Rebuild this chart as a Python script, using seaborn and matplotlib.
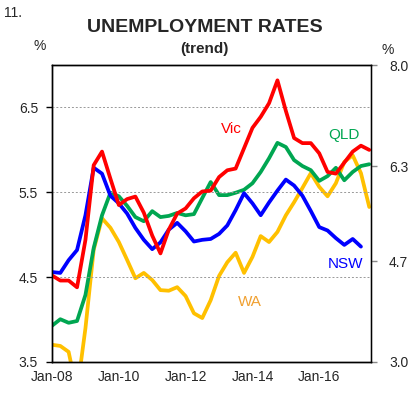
import matplotlib
matplotlib.use("Agg")
import matplotlib.pyplot as plt
import matplotlib.dates as mdates
import numpy as np
import pandas as pd
import seaborn as sns

# quarterly readings, Jan-2008 .. Jul-2017
dates = pd.date_range("2008-01-01", periods=39, freq="3MS")

# left axis (%)
vic = [4.52, 4.46, 4.46, 4.38, 4.94, 5.82, 5.98, 5.66, 5.35, 5.42,
       5.45, 5.26, 4.99, 4.78, 5.06, 5.25, 5.31, 5.43, 5.51, 5.52,
       5.68, 5.76, 5.78, 6.02, 6.26, 6.39, 6.55, 6.82, 6.46, 6.14,
       6.08, 6.08, 5.96, 5.74, 5.72, 5.85, 5.98, 6.05, 6.00]
nsw = [4.56, 4.55, 4.70, 4.82, 5.23, 5.79, 5.72, 5.46, 5.37, 5.25,
       5.08, 4.94, 4.83, 4.91, 5.06, 5.14, 5.04, 4.92, 4.94, 4.95,
       5.01, 5.11, 5.29, 5.49, 5.37, 5.23, 5.38, 5.52, 5.65, 5.58,
       5.46, 5.28, 5.09, 5.05, 4.96, 4.88, 4.95, 4.86, np.nan]

# right axis (%)
qld = [3.61, 3.72, 3.66, 3.69, 4.13, 4.92, 5.47, 5.85, 5.79, 5.63,
       5.44, 5.37, 5.54, 5.44, 5.46, 5.51, 5.47, 5.49, 5.76, 6.03,
       5.81, 5.81, 5.85, 5.90, 6.01, 6.20, 6.43, 6.69, 6.62, 6.40,
       6.30, 6.23, 6.05, 6.13, 6.27, 6.06, 6.20, 6.30, 6.33]
wa = [3.29, 3.27, 3.17, 2.50, 3.57, 4.89, 5.42, 5.26, 5.02, 4.72,
      4.41, 4.50, 4.38, 4.21, 4.20, 4.26, 4.11, 3.82, 3.74, 4.04,
      4.45, 4.68, 4.84, 4.50, 4.77, 5.12, 5.02, 5.19, 5.47, 5.69,
      5.93, 6.18, 5.95, 5.79, 6.01, 6.37, 6.48, 6.18, 5.61]

left_ticks = [3.5, 4.5, 5.5, 6.5]
right_ticks = [3.0, 4.7, 6.3, 8.0]

df = pd.DataFrame({"date": dates, "Vic": vic, "NSW": nsw, "QLD": qld, "WA": wa})

sns.set_theme(style="white")
plt.rcParams["font.family"] = ["Liberation Sans", "DejaVu Sans"]

fig = plt.figure(figsize=(4.09, 3.98), dpi=100)
ax = fig.add_axes([0.1271, 0.0905, 0.780, 0.746])
ax2 = ax.twinx()

line_kw = dict(linewidth=2.7, solid_joinstyle="round", solid_capstyle="round")
sns.lineplot(data=df, x="date", y="WA", ax=ax2, color="#FFC000", **line_kw)
sns.lineplot(data=df, x="date", y="QLD", ax=ax2, color="#00A651", **line_kw)
sns.lineplot(data=df, x="date", y="NSW", ax=ax, color="#0000FF", **line_kw)
sns.lineplot(data=df, x="date", y="Vic", ax=ax, color="#FF0000", **line_kw)
ax.set_zorder(ax2.get_zorder() + 1)
ax.patch.set_visible(False)

ax.set_ylim(3.5, 7.0)
ax2.set_ylim(3.0, 8.0)
ax.set_xlim(pd.Timestamp("2008-01-01"), pd.Timestamp("2017-07-20"))

ax.set_yticks(left_ticks)
ax.set_yticklabels([f"{t:.1f}" for t in left_ticks])
ax2.set_yticks(right_ticks)
ax2.set_yticklabels([f"{t:.1f}" for t in right_ticks])
ax.yaxis.grid(True, color="#999999", linestyle=(0, (2, 2)), linewidth=0.7)

ax.xaxis.set_major_locator(mdates.YearLocator(1))
ax.xaxis.set_major_formatter(
    matplotlib.ticker.FuncFormatter(
        lambda v, p: mdates.num2date(v).strftime("%b-%y") if mdates.num2date(v).year % 2 == 0 else ""))

for a in (ax, ax2):
    a.set_xlabel("")
    a.set_ylabel("")
    for s in a.spines.values():
        s.set_color("black")
        s.set_linewidth(1.0)
ax2.spines["right"].set_color("#888888")

ax.tick_params(axis="x", direction="in", length=4, width=1, labelsize=10, pad=6, color="black")
ax.tick_params(axis="y", direction="out", length=4, width=1, labelsize=10, pad=6, color="black")
ax2.tick_params(axis="y", direction="out", length=4, width=1, labelsize=10, pad=9, color="#888888")

fig.text(0.01, 0.985, "11.", fontsize=10, va="top", ha="left")
fig.text(0.50, 0.93, "UNEMPLOYMENT RATES", fontsize=14, fontweight="bold", ha="center", va="center")
fig.text(0.50, 0.878, "(trend)", fontsize=11, fontweight="bold", ha="center", va="center")
fig.text(0.098, 0.884, "%", fontsize=10, ha="center", va="center")
fig.text(0.949, 0.875, "%", fontsize=10, ha="center", va="center")

ax.text(pd.Timestamp("2013-05-15"), 6.25, "Vic", color="#FF0000", fontsize=11, ha="center", va="center")
ax.text(pd.Timestamp("2016-10-01"), 6.17, "QLD", color="#00A651", fontsize=11, ha="center", va="center")
ax.text(pd.Timestamp("2016-10-15"), 4.65, "NSW", color="#0000FF", fontsize=11, ha="center", va="center")
ax.text(pd.Timestamp("2013-12-01"), 4.21, "WA", color="#F0A030", fontsize=11, ha="center", va="center")

fig.savefig("out.png", dpi=100)
